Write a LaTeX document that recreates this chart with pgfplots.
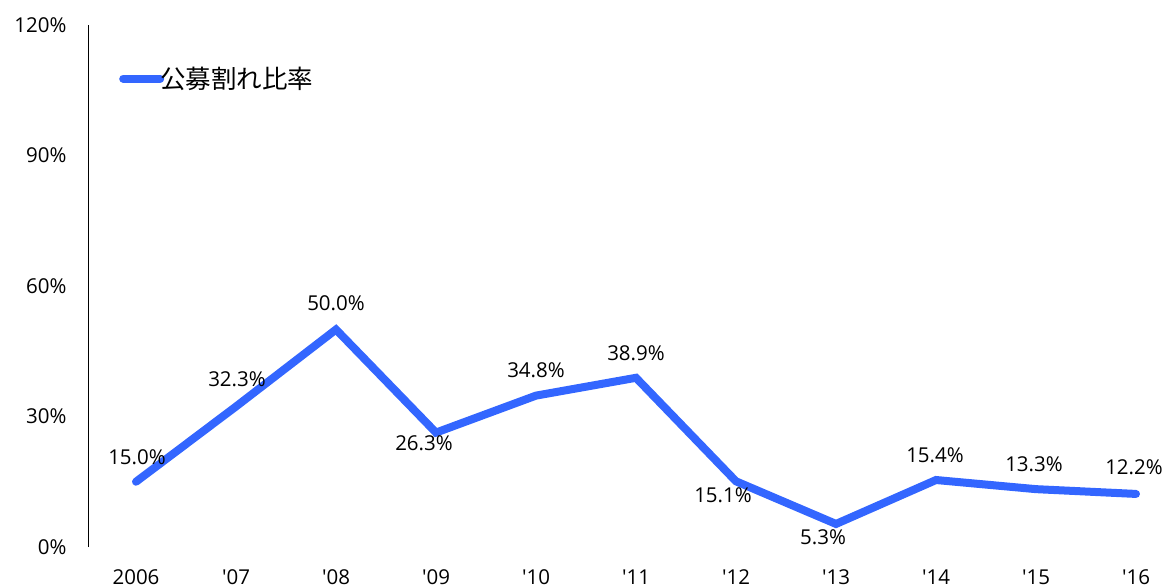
\documentclass[border=0pt]{standalone}
\usepackage{pgfplots}
\pgfplotsset{compat=1.18}
\usepackage{fontspec}
\setmainfont{Open Sans}[Ligatures=TeXOff]
\newfontfamily\jpfont{Noto Sans CJK JP}
\definecolor{lineblue}{RGB}{51,102,255}
\begin{document}
\begin{tikzpicture}
\begin{axis}[
  scale only axis,
  width=1078pt, height=522pt,
  xmin=-0.48, xmax=10.3,
  ymin=0, ymax=120,
  axis lines=left,
  axis line style={-},
  x axis line style={draw=none},
  y axis line style={line width=0.8pt},
  major tick length=0pt,
  xtick={0,...,10},
  xticklabels={2006,'07,'08,'09,'10,'11,'12,'13,'14,'15,'16},
  ytick={0,30,60,90,120},
  yticklabels={0\%,30\%,60\%,90\%,120\%},
  tick label style={font=\fontsize{20.5}{24}\selectfont, text=black},
  yticklabel style={xshift=-18pt},
  xticklabel style={yshift=-19pt},
  /pgf/number format/assume math mode=true,
  clip=false,
  legend style={at={(0,1)}, anchor=north west, draw=none, fill=none,
    xshift=31pt, yshift=-40pt, font=\jpfont\fontsize{25.5}{28}\selectfont,
    inner sep=0pt},
  legend image code/.code={\draw[line width=8pt, line cap=round, lineblue] (0pt,0pt) -- (37pt,0pt);},
  legend cell align=left,
]
\addplot[lineblue, line width=8pt, line cap=round, line join=miter,
  nodes near coords={\pgfmathprintnumber[fixed,fixed zerofill,precision=1,assume math mode=true]{\pgfplotspointmeta}\%},
  point meta=explicit,
  visualization depends on={\thisrow{dx} \as \dx},
  visualization depends on={\thisrow{dy} \as \dy},
  every node near coord/.style={anchor=center, xshift=\dx pt, yshift=\dy pt,
    font=\fontsize{20.5}{24}\selectfont, text=black, inner sep=0pt},
] table[x=x, y=y, meta=y] {
x y dx dy
0 15.0 1 25
1 32.3 1 27
2 50.0 0 26
3 26.3 -12 -11
4 34.8 0 25
5 38.9 0 25
6 15.1 -13 -14
7 5.3 -13 -13
8 15.4 -1 25
9 13.3 -2 25
10 12.2 -2 27
};
\addlegendentry{\hspace{-6pt}公募割れ比率}
\end{axis}
\pgfresetboundingbox
\path[use as bounding box] ([shift={(-88pt,-40pt)}]current axis.south west) rectangle ++(1166pt,587pt);
\end{tikzpicture}
\end{document}
